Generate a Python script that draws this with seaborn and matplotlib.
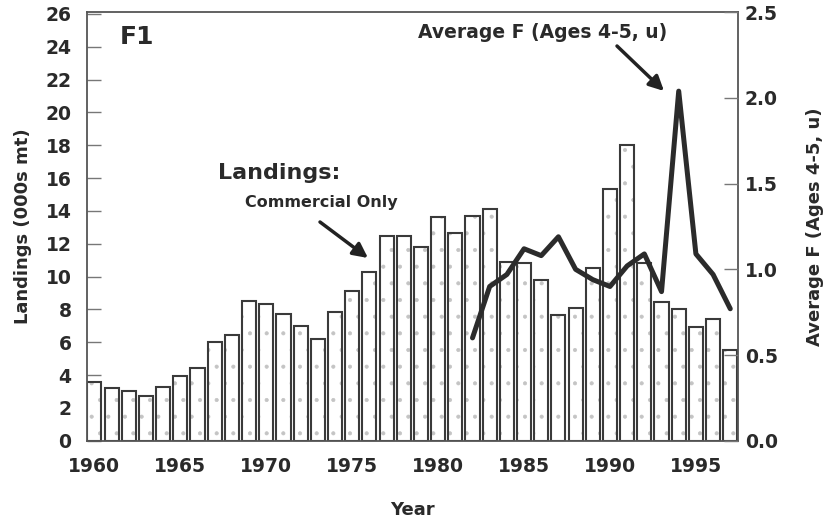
import matplotlib
matplotlib.use("Agg")
import matplotlib.pyplot as plt
import seaborn as sns
import numpy as np
import pandas as pd

years = list(range(1960, 1998))
landings = [3.55, 3.2, 3.05, 2.7, 3.25, 3.95, 4.4, 6.0, 6.45, 8.5,
            8.3, 7.7, 7.0, 6.2, 7.85, 9.1, 10.25, 12.5, 12.5, 11.8,
            13.6, 12.65, 13.7, 14.1, 10.9, 10.8, 9.8, 7.65, 8.1, 10.55,
            15.35, 18.0, 10.8, 8.45, 8.05, 6.95, 7.4, 5.55]
f_years = list(range(1982, 1998))
avg_f = [0.60, 0.90, 0.97, 1.12, 1.08, 1.19, 1.00, 0.94, 0.90, 1.02,
         1.09, 0.87, 2.04, 1.09, 0.97, 0.77]
left_ticks = list(range(0, 27, 2))
right_ticks = [0.0, 0.5, 1.0, 1.5, 2.0, 2.5]
year_ticks = list(range(1960, 1996, 5))

sns.set_style("white")
plt.rcParams['font.family'] = ['DejaVu Sans']
plt.rcParams['font.weight'] = 'bold'
plt.rcParams['hatch.linewidth'] = 0.5

TXT = '#2a2a2a'
W, H = 828, 523
fig = plt.figure(figsize=(W/100, H/100), dpi=100)
ax = fig.add_axes([86.7/W, 1-440.7/H, (738-86.7)/W, (440.7-12.3)/H])

df = pd.DataFrame({'Year': years, 'Landings': landings})
dff = pd.DataFrame({'Year': f_years, 'F': avg_f})

# stipple fill
sns.barplot(data=df, x='Year', y='Landings', native_scale=True, width=0.82,
            color='white', linewidth=0, ax=ax)
for p in ax.patches:
    p.set_hatch('.')
    p.set_facecolor('white')
    p.set_edgecolor('#c4c4c4')
# outlines
sns.barplot(data=df, x='Year', y='Landings', native_scale=True, width=0.82,
            fill=False, edgecolor='#3a3a3a', linewidth=1.5, ax=ax)

ax.set_xlim(1959.55, 1997.45)
ax.set_ylim(0, 26.1)
ax.set_xticks(years)
ax.set_xticklabels([str(y) if y in year_ticks else '' for y in years])
ax.set_yticks(left_ticks)
ax.tick_params(axis='x', direction='inout', length=12, width=1, color='#555',
               labelsize=13.5, labelcolor=TXT, pad=6)
ax.tick_params(axis='y', direction='in', length=10, width=1, color='#777',
               labelsize=13.5, labelcolor=TXT, pad=11, left=True)
ax.set_xlabel('Year', fontsize=13, fontweight='bold', color=TXT, labelpad=18)
ax.set_ylabel('Landings (000s mt)', fontsize=13, fontweight='bold', color=TXT, labelpad=10)
for s in ax.spines.values():
    s.set_color('#555')
    s.set_linewidth(1.3)

ax2 = ax.twinx()
sns.lineplot(data=dff, x='Year', y='F', color='#2b2b2b', linewidth=3.6, ax=ax2)
ax2.set_ylim(0, 2.5)
ax2.set_yticks(right_ticks)
ax2.set_yticklabels([f'{v:.1f}' for v in right_ticks])
ax2.tick_params(axis='y', direction='in', length=10, width=1, color='#777',
                labelsize=13.5, labelcolor=TXT, pad=5, right=True)
ax2.set_ylabel('Average F (Ages 4-5, u)', fontsize=13, fontweight='bold', color=TXT,
               labelpad=20)
ax2.set_xlabel('')
for s in ax2.spines.values():
    s.set_visible(False)

def fp(x, y):
    return (x/W, 1-y/H)

fig.text(*fp(120, 37), 'F1', fontsize=18, fontweight='bold', color=TXT, va='center', ha='left')
fig.text(*fp(218, 173), 'Landings:', fontsize=16, fontweight='bold', color=TXT, va='center', ha='left')
fig.text(*fp(245, 202), 'Commercial Only', fontsize=11.5, fontweight='bold', color=TXT, va='center', ha='left')
fig.text(*fp(418, 32), 'Average F (Ages 4-5, u)', fontsize=13.5, fontweight='bold', color=TXT, va='center', ha='left')

ap = dict(arrowstyle='-|>', lw=2.5, color='#222', mutation_scale=22, shrinkA=0, shrinkB=0)
ax.annotate('', xy=fp(368, 258), xytext=fp(320, 222), xycoords='figure fraction',
            textcoords='figure fraction', arrowprops=ap)
ax.annotate('', xy=fp(664, 91), xytext=fp(617, 46), xycoords='figure fraction',
            textcoords='figure fraction', arrowprops=ap)

fig.savefig('out.png', dpi=100)
